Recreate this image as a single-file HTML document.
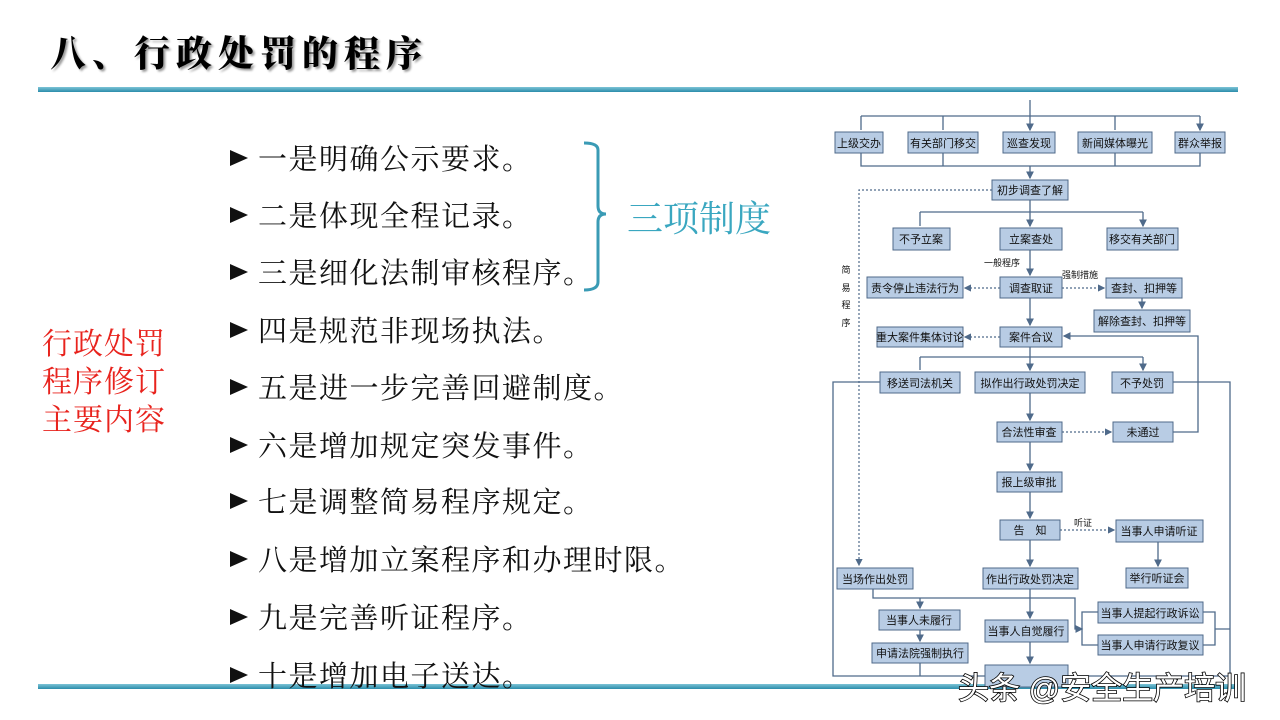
<!DOCTYPE html>
<html><head><meta charset="utf-8"><style>
body{margin:0;width:1280px;height:720px;background:#fff;position:relative;overflow:hidden;font-family:"Liberation Sans","Noto Sans CJK SC",sans-serif}
.a{position:absolute;white-space:nowrap}
.li{font-size:29px;letter-spacing:1.5px;color:#111;left:258px;font-family:"Liberation Serif","Noto Serif CJK SC",serif}
.li:before{content:"";position:absolute;left:-28px;top:13px;width:0;height:0;border-left:18px solid #111;border-top:8px solid transparent;border-bottom:8px solid transparent}
.red{color:#e8231d;font-size:30px;left:42px;letter-spacing:1px;font-family:"Liberation Serif","Noto Serif CJK SC",serif}
</style></head><body>
<div class="a" style="left:50px;top:26px;font-size:36px;font-weight:900;letter-spacing:6px;font-family:'Noto Serif CJK SC',serif;text-shadow:2px 2px 2px #999">八、行政处罚的程序</div>
<div class="a" style="left:38px;top:87px;width:1200px;height:5px;background:linear-gradient(#7cc3d6,#2b8cab)"></div>
<div class="a" style="left:38px;top:684px;width:1200px;height:5px;background:linear-gradient(#7cc3d6,#2b8cab)"></div>
<div class="a li" style="top:137px">一是明确公示要求。</div>
<div class="a li" style="top:194px">二是体现全程记录。</div>
<div class="a li" style="top:251px">三是细化法制审核程序。</div>
<div class="a li" style="top:309px">四是规范非现场执法。</div>
<div class="a li" style="top:366px">五是进一步完善回避制度。</div>
<div class="a li" style="top:424px">六是增加规定突发事件。</div>
<div class="a li" style="top:480px">七是调整简易程序规定。</div>
<div class="a li" style="top:538px">八是增加立案程序和办理时限。</div>
<div class="a li" style="top:596px">九是完善听证程序。</div>
<div class="a li" style="top:654px">十是增加电子送达。</div>
<div class="a red" style="top:319px">行政处罚</div>
<div class="a red" style="top:357px">程序修订</div>
<div class="a red" style="top:395px">主要内容</div>
<div class="a" style="left:627px;top:191px;font-size:36px;color:#3aa7c0;font-family:'Liberation Serif','Noto Serif CJK SC',serif">三项制度</div>
<svg class="a" style="left:0;top:0" width="1280" height="720">
<path d="M584 143 Q598 143 598 150 L598 206 Q598 214 606 214 Q598 214 598 222 L598 282 Q598 290 584 290" fill="none" stroke="#3a9bb5" stroke-width="3"/>
<defs><marker id="m" markerWidth="6" markerHeight="6" refX="5" refY="3" orient="auto"><path d="M0,0 L6,3 L0,6z" fill="#4f6a8a"/></marker></defs>
<g stroke="#4f6a8a" stroke-width="1.3" fill="none">
<path d="M1030 100V130" marker-end="url(#m)"/>
<path d="M861 116H1200"/>
<path d="M861 116V130M943 116V130M1115 116V130M1200 116V130" marker-end="url(#m)"/>
<path d="M861 153V166H1200V153M943 153V166M1115 153V166"/>
<path d="M1030 166V178" marker-end="url(#m)"/>
<path d="M1030 200V226" marker-end="url(#m)"/>
<path d="M920 212H1143"/>
<path d="M920 212V226M1143 212V226" marker-end="url(#m)"/>
<path d="M1030 250V275" marker-end="url(#m)"/>
<path d="M1030 298V325" marker-end="url(#m)"/>
<path d="M1142 298V308" marker-end="url(#m)"/>
<path d="M1030 347V370" marker-end="url(#m)"/>
<path d="M920 357H1143"/>
<path d="M920 357V370M1143 357V370" marker-end="url(#m)"/>
<path d="M1030 393V420" marker-end="url(#m)"/>
<path d="M1030 442V470" marker-end="url(#m)"/>
<path d="M1030 492V518" marker-end="url(#m)"/>
<path d="M1030 540V566" marker-end="url(#m)"/>
<path d="M1158 542V566" marker-end="url(#m)"/>
<path d="M1030 589V618" marker-end="url(#m)"/>
<path d="M1030 642V663" marker-end="url(#m)"/>
<path d="M1173 432H1198V336H1064" marker-end="url(#m)"/>
<path d="M880 382H833V676H988"/>
<path d="M1173 382H1230V676H1068"/>
<path d="M920 663V676"/>
<path d="M873 589V598H1075V629H1082" marker-end="url(#m)"/>
<path d="M920 598V608" marker-end="url(#m)"/>
<path d="M920 630V641" marker-end="url(#m)"/>
<path d="M1098 612H1082V645H1098M1203 612H1215V645H1203M1215 629H1230"/>
</g>
<g stroke="#4f6a8a" stroke-width="1.2" fill="none" stroke-dasharray="2,2">
<path d="M992 190H859V565" marker-end="url(#m)"/>
<path d="M1000 288H965" marker-end="url(#m)"/>
<path d="M1062 288H1104" marker-end="url(#m)"/>
<path d="M1000 337H965" marker-end="url(#m)"/>
<path d="M1062 432H1111" marker-end="url(#m)"/>
<path d="M1060 530H1114" marker-end="url(#m)"/>
</g>
<g fill="#b8cce4" stroke="#4f6a8a" stroke-width="1">
<rect x="835" y="132" width="48" height="21"/><rect x="908" y="132" width="70" height="21"/><rect x="1003" y="132" width="52" height="21"/><rect x="1078" y="132" width="74" height="21"/><rect x="1175" y="132" width="50" height="21"/>
<rect x="992" y="180" width="76" height="20"/>
<rect x="893" y="228" width="57" height="22"/><rect x="1000" y="228" width="62" height="22"/><rect x="1107" y="228" width="71" height="22"/>
<rect x="867" y="277" width="96" height="21"/><rect x="1000" y="277" width="62" height="21"/><rect x="1106" y="278" width="76" height="20"/><rect x="1094" y="310" width="96" height="22"/>
<rect x="877" y="327" width="86" height="20"/><rect x="1000" y="327" width="62" height="20"/>
<rect x="880" y="372" width="80" height="21"/><rect x="975" y="372" width="110" height="21"/><rect x="1112" y="372" width="61" height="21"/>
<rect x="997" y="422" width="65" height="20"/><rect x="1113" y="422" width="60" height="20"/>
<rect x="997" y="472" width="65" height="20"/>
<rect x="1000" y="520" width="60" height="20"/><rect x="1116" y="520" width="87" height="22"/>
<rect x="837" y="568" width="76" height="21"/><rect x="983" y="568" width="95" height="21"/><rect x="1126" y="568" width="62" height="20"/>
<rect x="879" y="610" width="81" height="20"/><rect x="985" y="620" width="83" height="22"/><rect x="1098" y="602" width="105" height="21"/><rect x="1098" y="635" width="105" height="20"/>
<rect x="872" y="643" width="96" height="20"/><rect x="985" y="665" width="83" height="22"/>
</g>
<g font-size="11" fill="#111" text-anchor="middle" font-family="Liberation Sans,Noto Sans CJK SC,sans-serif">
<text x="859" y="147">上级交办</text><text x="943" y="147">有关部门移交</text><text x="1029" y="147">巡查发现</text><text x="1115" y="147">新闻媒体曝光</text><text x="1200" y="147">群众举报</text>
<text x="1030" y="194">初步调查了解</text>
<text x="921" y="243">不予立案</text><text x="1031" y="243">立案查处</text><text x="1142" y="243">移交有关部门</text>
<text x="915" y="292">责令停止违法行为</text><text x="1031" y="292">调查取证</text><text x="1144" y="292">查封、扣押等</text><text x="1142" y="325">解除查封、扣押等</text>
<text x="920" y="341">重大案件集体讨论</text><text x="1031" y="341">案件合议</text>
<text x="920" y="387">移送司法机关</text><text x="1030" y="387">拟作出行政处罚决定</text><text x="1142" y="387">不予处罚</text>
<text x="1029" y="436">合法性审查</text><text x="1143" y="436">未通过</text>
<text x="1029" y="486">报上级审批</text>
<text x="1030" y="534">告　知</text><text x="1159" y="535">当事人申请听证</text>
<text x="875" y="583">当场作出处罚</text><text x="1030" y="583">作出行政处罚决定</text><text x="1157" y="582">举行听证会</text>
<text x="919" y="624">当事人未履行</text><text x="1026" y="635">当事人自觉履行</text><text x="1150" y="617">当事人提起行政诉讼</text><text x="1150" y="649">当事人申请行政复议</text>
<text x="920" y="657">申请法院强制执行</text>
<g font-size="9"><text x="1002" y="266">一般程序</text><text x="1080" y="278">强制措施</text><text x="1083" y="526">听证</text>
<text x="846" y="273">简</text><text x="846" y="291">易</text><text x="846" y="308">程</text><text x="846" y="326">序</text></g>
</g>
<text x="958" y="699" font-size="31" fill="#fff" stroke="#000" stroke-width="1.6" paint-order="stroke" font-family="Liberation Sans,Noto Sans CJK SC,sans-serif">头条 @安全生产培训</text>
</svg>
</body></html>
